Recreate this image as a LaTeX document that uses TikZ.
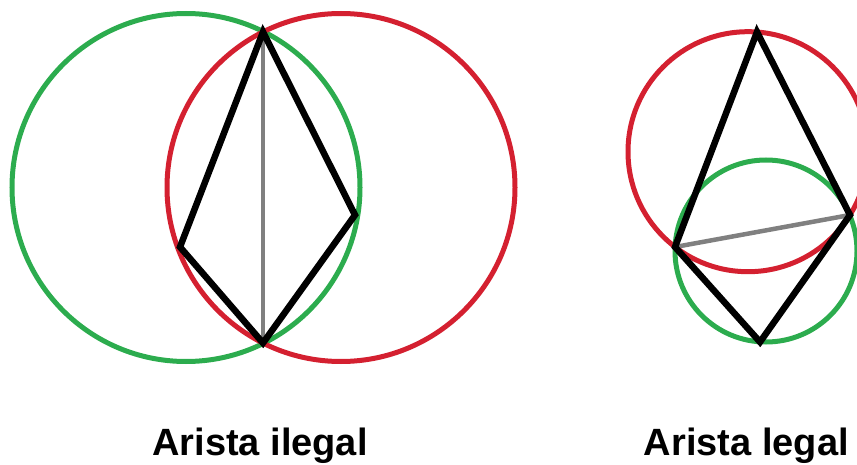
\documentclass[tikz,border=0pt]{standalone}
\usepackage{fontspec}
\setmainfont{Liberation Sans}
\definecolor{cgreen}{RGB}{44,172,78}
\definecolor{cred}{RGB}{212,32,48}
\definecolor{cgray}{RGB}{128,128,128}
\begin{document}
\begin{tikzpicture}[x=1pt, y=-1pt,
    circ/.style={line width=5pt},
    edge/.style={black, line width=6.5pt, line join=miter},
    diag/.style={cgray, line width=4.5pt},
    caption/.style={anchor=base, inner sep=0pt, font=\bfseries\fontsize{38}{41}\selectfont}]
        \useasboundingbox (0,0) rectangle (857,465);

        % 左: 非法边
        \coordinate (T1) at (263,32);
        \coordinate (R1) at (355,215);
        \coordinate (B1) at (263,343);
        \coordinate (L1) at (180,247);

        \draw[circ, cgreen] (186,187.5) circle[radius=174pt];
        \draw[circ, cred] (341,187.5) circle[radius=174pt];

        \draw[diag] (T1) -- (B1);
        \draw[edge] (T1) -- (R1) -- (B1) -- (L1) -- cycle;

        % 右: 合法边
        \coordinate (T2) at (757,32);
        \coordinate (R2) at (850,215);
        \coordinate (B2) at (760,342);
        \coordinate (L2) at (675,247);

        \draw[circ, cred] (748,151.7) circle[radius=120pt];
        \draw[circ, cgreen] (766,251) circle[radius=91pt];

        \draw[diag] (L2) -- (R2);
        \draw[edge] (T2) -- (R2) -- (B2) -- (L2) -- cycle;

        % 标题
        \node[caption] (cap1) at (260,455) {Arista ilegal};
        \node[caption, anchor=base east] (cap2) at (849,455) {Arista legal};

    \end{tikzpicture}
\end{document}
